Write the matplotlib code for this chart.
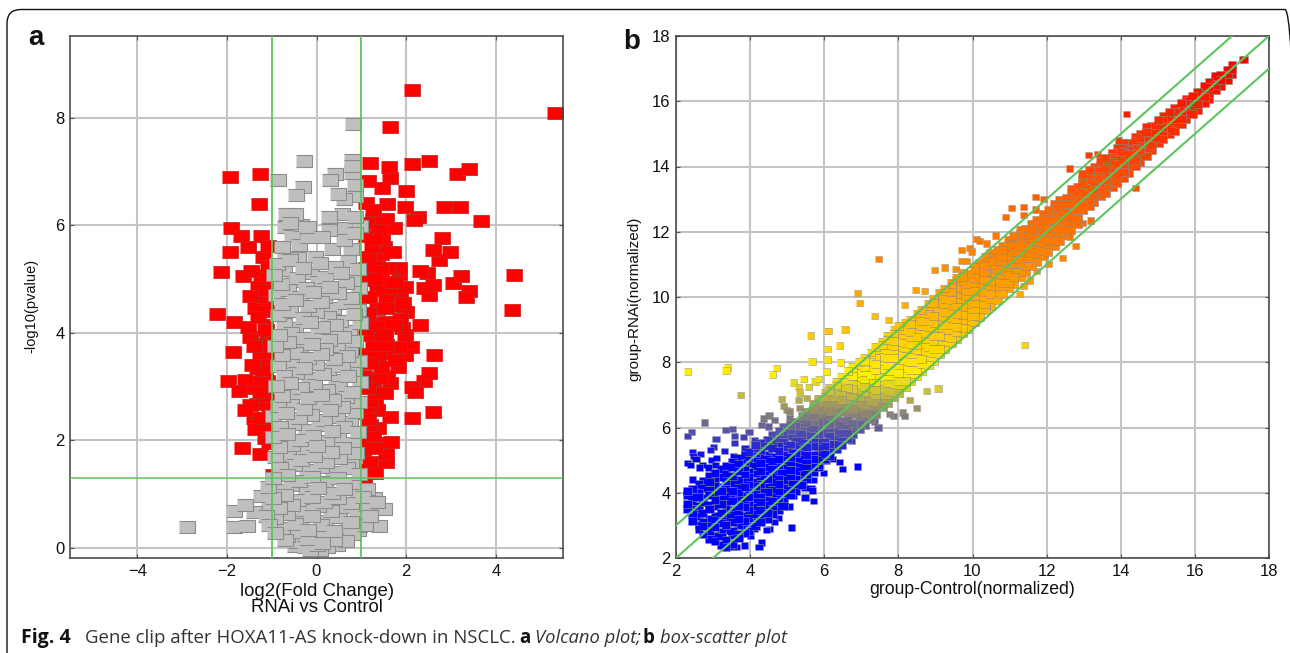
import matplotlib
matplotlib.use("Agg")
import matplotlib.pyplot as plt
from matplotlib.colors import LinearSegmentedColormap
from matplotlib.patches import FancyBboxPatch
from matplotlib.transforms import IdentityTransform

# Figure size in pixels
fig_w = 1290
fig_h = 653

# Panel a: ticks and threshold lines
a_xticks = [-4, -2, 0, 2, 4]
a_yticks = [0, 2, 4, 6, 8]
fc_lines = [-1, 1]
p_line = 1.3

# Panel a: points (x, y)
red_left = [(-1.92,6.9),(-1.25,6.96),(-1.29,6.4),(-1.9,5.95),(-1.69,5.8),(-1.23,5.8),(-1.52,5.6),(-1.94,5.51),
    (-1.09,5.62),(-1.2,5.41),(-2.14,5.13),(-1.47,5.15),(-1.65,5.06),(-1.23,5.08),(-1.05,4.95),(-1.09,4.8),
    (-1.49,4.69),(-1.2,4.67),(-1.16,4.56),(-1.38,4.46),(-2.23,4.35),(-1.83,4.2),(-1.52,4.11),(-1.14,4.15),
    (-1.87,3.65),(-1.49,3.93),(-1.11,3.87),(-1.03,3.65),(-1.27,3.54),(-1.16,3.31),(-1.98,3.11),(-1.6,3.13),
    (-1.27,3.08),(-1.49,2.98),(-1.72,2.92),(-1.16,2.83),(-1.32,2.68),(-1.49,2.66),(-1.6,2.57),(-1.4,2.42),
    (-1.2,2.42),(-1.38,2.21),(-1.11,2.29),(-1.16,2.05),(-1.67,1.86),(-1.25,1.75),(-.98,1.36),(-1.3,4.3),
    (-1.1,4.4),(-1.25,3.8),(-1.4,3.75),(-1.05,3.4),(-1.1,3.1),(-1.05,2.6),(-1.25,2.9),(-1.45,3.4),
    (-1.3,4.85),(-1.08,5.25),(-1.12,4.05),(-1.22,3.2),(-1.3,2.3),(-1.08,2.75),(-1.15,3.62),(-1.05,1.95),(-1.38,3.0),(-1.33,3.35)]
red_right = [(2.14,8.52),(5.33,8.09),(1.65,7.83),(1.2,7.16),(2.14,7.13),(2.52,7.2),(1.61,7.09),(3.14,6.96),
    (3.41,7.05),(1.16,6.83),(1.65,6.88),(1.47,6.7),(2.0,6.64),(1.11,6.42),(1.58,6.4),(1.27,6.29),(1.98,6.33),
    (2.85,6.33),(3.21,6.33),(2.27,6.16),(3.66,6.08),(2.18,6.1),(1.56,6.12),(1.72,5.95),(1.25,6.1),(1.4,5.92),
    (1.47,5.77),(2.81,5.77),(2.59,5.54),(2.97,5.51),(2.74,5.36),(1.23,5.6),(1.43,5.47),(1.14,5.41),(1.85,5.21),
    (1.43,5.15),(2.32,5.15),(2.47,5.12),(1.85,5.1),(3.23,5.06),(4.41,5.08),(1.14,4.99),(1.56,4.95),(3.05,4.93),
    (1.98,4.86),(2.39,4.84),(2.59,4.89),(1.61,4.78),(3.41,4.78),(2.5,4.71),(3.34,4.67),(1.87,4.69),(1.18,4.67),
    (1.56,4.61),(1.94,4.56),(4.37,4.43),(1.14,4.37),(2.0,4.39),(1.56,4.46),(1.87,4.26),(2.32,4.15),(1.18,4.19),
    (1.52,4.2),(1.9,4.09),(2.63,3.59),(2.5,3.26),(2.39,3.11),(2.14,3.0),(2.19,2.9),(2.59,2.53),(2.12,2.42),
    (1.65,2.44),(1.67,1.97),(1.56,1.75),(1.54,1.6),(1.38,1.95),(1.07,1.97),(1.03,1.77),(1.16,1.45),(1.07,1.32),
    (1.38,2.23),(1.2,2.29),(1.34,2.57),(1.2,2.66),(1.52,2.88),(1.16,2.98),(1.38,2.9),(1.63,3.07),(1.58,3.2),
    (1.25,3.13),(1.81,3.37),(1.43,3.37),(1.2,3.44),(1.38,3.55),(1.98,3.59),(1.63,3.63),(2.1,3.74),(1.56,3.78),
    (1.85,3.74),(1.25,3.78),(1.98,3.96),(1.52,3.96),(1.2,4.0),(1.1,5.8),(1.1,5.2),(1.3,5.0),(1.7,4.5),(1.35,4.8),
    (1.1,3.6),(1.05,3.2),(1.1,2.5),(1.25,2.1),(1.2,1.6),(1.3,1.85),(1.7,5.5),(1.3,5.75),(1.35,5.25),(1.6,5.2),
    (1.75,4.95),(1.35,4.45),(1.72,4.15),(1.35,4.1),(1.75,3.5),(1.4,3.15),(1.3,2.75),(1.15,2.4),(1.1,3.95),(1.5,5.6),(1.12,6.05),(1.3,1.4)]
grey_top = [(-.29,7.2),(-.85,6.85),(-.31,6.72),(-.45,6.57),(.82,7.89),(.8,7.22),(.8,7.11),(.42,6.96),(.31,6.85),
    (.8,6.97),(.87,6.74),(.49,6.59),(.62,6.49),(.87,6.55),(.58,6.21),(.29,6.16),(.98,5.99),(.62,5.95),(-.22,5.97),
    (.29,5.92),(.13,5.79),(.62,5.73),(.85,6.16),(.85,5.85),(-.69,6.2),(-.47,6.2),(-.71,5.97),(-.2,5.97),(-.54,5.8),
    (-.38,5.64),(-.76,5.6),(-.71,5.37),(-.42,5.39),(-.2,5.79),(-.04,5.41),(.35,5.55),(.78,5.55),(-.6,6.05),(-.35,6.0)]
grey_outliers = [(-2.9,.38),(-1.85,.38),(-1.55,.4),(-1.85,.68),(-1.6,.8),(-1.4,.66),(1.5,.72),(1.1,.8),(1.35,.85),
    (1.4,.4),(.95,.4),(1.2,.6)]
grey_body = [(-.88,5.27),(-.6,5.36),(-.31,5.2),(.07,5.3),(.42,5.22),(.7,5.34),(.93,5.18),
    (-.94,5.08),(-.72,5.16),(-.44,5.02),(-.13,5.12),(.2,5.03),(.55,5.11),(.82,4.98),
    (-.79,4.9),(-.53,4.96),(-.24,4.84),(.04,4.95),(.31,4.86),(.66,4.92),(.95,4.83),
    (-.91,4.71),(-.64,4.8),(-.36,4.66),(-.08,4.76),(.17,4.67),(.48,4.74),(.78,4.64),
    (-.76,4.53),(-.47,4.6),(-.19,4.49),(.1,4.57),(.37,4.46),(.63,4.55),(.93,4.42),
    (-.87,4.33),(-.59,4.41),(-.3,4.28),(-.02,4.38),(.26,4.3),(.53,4.22),(.83,4.34),
    (-.73,4.16),(-.48,4.09),(-.14,4.2),(.13,4.1),(.42,4.15),(.72,4.03),(.96,4.19),
    (-.84,3.95),(-.56,3.99),(-.27,3.91),(.03,3.99),(.29,3.87),(.59,3.93),(.87,3.84),
    (-.93,3.76),(-.64,3.82),(-.37,3.72),(-.11,3.8),(.19,3.7),(.46,3.76),(.75,3.66),
    (-.77,3.58),(-.47,3.63),(-.2,3.53),(.11,3.6),(.38,3.51),(.67,3.57),(.94,3.47),
    (-.85,3.38),(-.57,3.45),(-.28,3.35),(-.01,3.42),(.25,3.32),(.56,3.38),(.83,3.28),
    (-.73,3.2),(-.45,3.26),(-.16,3.15),(.15,3.23),(.43,3.12),(.71,3.19),(.97,3.09),
    (-.91,3.01),(-.59,3.06),(-.34,2.97),(-.05,3.03),(.23,2.93),(.51,3.0),(.79,2.9),
    (-.77,2.83),(-.49,2.88),(-.2,2.78),(.09,2.85),(.36,2.75),(.65,2.81),(.94,2.72),
    (-.87,2.63),(-.57,2.69),(-.28,2.59),(.03,2.66),(.31,2.56),(.58,2.62),(.86,2.53),
    (-.96,2.45),(-.67,2.5),(-.39,2.41),(-.12,2.47),(.17,2.38),(.46,2.44),(.74,2.34),
    (-.81,2.25),(-.53,2.3),(-.23,2.2),(.06,2.28),(.35,2.17),(.62,2.24),(.93,2.15),
    (-.98,2.06),(-.65,2.11),(-.37,2.01),(-.07,2.08),(.21,1.98),(.49,2.05),(.81,1.95),
    (-.83,1.87),(-.54,1.92),(-.25,1.82),(.02,1.89),(.33,1.79),(.6,1.86),(.89,1.76),
    (-.93,1.68),(-.63,1.73),(-.35,1.63),(-.06,1.7),(.22,1.6),(.5,1.67),(.77,1.57),
    (-.82,1.49),(-.5,1.54),(-.21,1.44),(.09,1.51),(.37,1.41),(.67,1.48),(.94,1.38),
    (-.97,1.3),(-.66,1.35),(-.39,1.25),(-.1,1.32),(.19,1.22),(.48,1.29),(.8,1.2)]
grey_base = [(-1.08,1.13),(-.84,1.08),(-.56,1.16),(-.24,1.05),(.04,1.12),(.35,1.02),(.62,1.1),(.9,1.03),(1.12,1.1),
    (-1.24,.96),(-.98,.92),(-.7,.98),(-.41,.88),(-.11,.95),(.17,.86),(.47,.93),(.76,.84),(1.03,.94),(1.28,.92),
    (-1.07,.78),(-.84,.74),(-.54,.8),(-.28,.7),(.04,.77),(.33,.68),(.61,.75),(.91,.66),(1.16,.74),
    (-1.13,.6),(-.92,.55),(-.66,.62),(-.37,.52),(-.1,.59),(.2,.5),(.5,.57),(.77,.48),(1.03,.58),
    (-1.06,.42),(-.77,.36),(-.49,.44),(-.2,.34),(.11,.42),(.38,.31),(.68,.39),(.92,.33),(1.08,.43),
    (-.92,.28),(-.66,.22),(-.36,.29),(-.08,.2),(.21,.27),(.5,.18),(.8,.26),
    (-.7,.15),(-.45,.1),(-.18,.16),(.12,.08),(.4,.14),(.66,.12),
    (-.48,.04),(-.26,.01),(.01,.05),(.24,.02),(.46,.05),(-.14,-.05),(.08,-.04)]

# Panel b: ticks and the three fold change lines
b_ticks = [2, 4, 6, 8, 10, 12, 14, 16, 18]
b_offsets = [-1, 0, 1]

# Panel b: scattered points (x, y)
b_scatter = [(2.31,7.72),(3.38,7.84),(3.35,7.75),(4.72,7.82),(4.61,7.62),(3.73,7.0),(5.64,8.82),(6.08,8.96),(6.08,8.41),
    (6.4,8.51),(5.67,8.02),(6.08,8.09),(6.44,7.99),(6.07,7.72),(5.43,7.48),(5.16,7.38),(5.75,7.41),(5.3,7.25),(5.57,7.25),
    (5.84,7.48),(5.34,7.07),(5.52,6.9),(4.85,6.88),(5.3,6.85),(4.89,6.66),(4.98,6.54),(5.34,6.59),(5.07,6.49),(4.35,6.28),
    (4.51,6.37),(4.67,6.23),(5.07,6.28),(4.31,6.08),(4.49,6.03),(2.78,6.15),(3.34,5.92),(3.52,5.95),(2.42,5.86),(2.31,5.74),
    (3.08,5.65),(3.57,5.74),(3.97,5.87),(3.81,5.7),(3.59,5.52),(4.11,5.62),(3.02,5.4),(2.92,5.31),(3.31,5.28),(2.45,5.24),
    (2.65,5.19),(2.47,5.13),(2.54,5.04),(2.31,4.92),(2.38,4.85),(2.72,4.85),(2.63,4.77),(2.87,4.77),(2.96,5.0),(3.1,5.06),
    (3.06,4.85),(3.55,5.11),(2.44,4.41),(2.87,4.39),(2.6,4.14),(6.9,4.8),(6.49,4.72),(6.42,4.95),(6.22,5.04),(5.97,4.6),
    (5.86,4.75),(6.06,4.98),(5.72,3.75),(5.48,3.85),(5.48,4.14),(5.66,4.14),(5.7,4.39),(5.68,4.07),(5.43,4.34),(5.12,2.93),
    (5.05,3.58),(5.16,3.9),(4.86,3.71),(4.53,2.89),(4.43,2.86),(4.31,2.47),(4.24,2.33),(4.13,2.89),(4.76,3.22),(4.67,3.11),
    (4.62,3.47),(4.0,2.69),(3.86,2.38),(3.62,2.34),(3.47,2.34),(3.28,2.37),(9.07,7.2),(8.77,7.11),(8.29,6.85),(8.49,6.59),
    (8.11,6.46),(8.17,6.36),(7.86,6.36),(7.75,6.42),(7.45,6.0),(7.36,6.18),(6.73,5.59),(7.47,11.17),(14.16,15.6),(11.41,8.53),
    (14.4,13.35),(12.61,13.94),(13.13,14.36),(13.37,14.39),(13.75,14.42),(13.94,14.8),(11.71,13.06),(11.92,13.0),(11.05,12.73),
    (11.38,12.75),(10.9,12.45),(11.37,12.52),(11.71,12.68),(10.11,11.78),(10.2,11.71),(10.38,11.64),(9.93,11.5),(9.97,11.4),
    (10.63,11.88),(9.7,11.1),(9.84,11.1),(9.55,10.86),(12.79,11.57),(12.42,11.2),(12.62,11.84),(13.18,12.35),(12.97,12.27),
    (12.06,11.02),(11.73,10.79),(11.55,10.51),(11.38,10.33),(11.26,10.1),(17.28,17.28),(17.34,17.28),(6.9,10.13),(6.96,9.82),
    (6.12,8.96),(6.56,9.0),(7.36,9.42),(7.74,9.3),(8.17,9.76),(8.47,10.22),(8.71,10.19),(8.98,10.83),(9.25,10.9),(9.71,11.45)]

# Panel b: the dense band, x: y values
b_band = {2.31:[3.5,3.66,3.93,4.05],2.44:[3.13,3.34,3.49,3.76,3.88,4.12],
    2.62:[2.88,3.02,3.29,3.44,3.6,3.87,4.0,4.28],2.73:[2.72,2.98,3.12,3.39,3.71,3.83,4.15,4.36],
    2.91:[2.59,2.84,3.05,3.21,3.49,3.63,3.94,4.09,4.33,4.51],3.05:[2.52,2.67,2.95,3.16,3.3,3.58,3.79,3.97,4.22,4.43,4.6],
    3.23:[2.41,2.66,2.79,3.06,3.24,3.38,3.66,3.8,4.06,4.19,4.48,4.72],
    3.35:[2.33,2.55,2.87,3.0,3.27,3.51,3.72,3.89,4.13,4.37,4.58,4.81],
    3.53:[2.44,2.7,2.82,3.11,3.33,3.46,3.75,3.92,4.05,4.31,4.5,4.79,4.93],
    3.68:[2.6,2.74,3.01,3.2,3.41,3.59,3.84,4.01,4.24,4.4,4.66,4.88,5.07],
    3.86:[2.76,2.9,3.14,3.29,3.55,3.77,3.9,4.17,4.35,4.56,4.71,4.98,5.15,5.33],
    3.97:[2.84,3.07,3.23,3.47,3.62,3.88,4.1,4.26,4.49,4.64,4.9,5.09,5.26],
    4.15:[2.97,3.19,3.36,3.57,3.8,3.96,4.22,4.34,4.59,4.82,4.96,5.21,5.38,5.47],
    4.29:[3.09,3.3,3.46,3.71,3.86,4.11,4.28,4.51,4.68,4.92,5.12,5.3,5.53],
    4.47:[3.2,3.38,3.63,3.78,4.03,4.17,4.42,4.63,4.79,5.03,5.17,5.44,5.62],
    4.6:[3.34,3.49,3.74,3.93,4.1,4.33,4.54,4.72,4.96,5.1,5.37,5.53,5.76],
    4.78:[3.46,3.69,3.85,4.04,4.28,4.41,4.67,4.85,5.04,5.27,5.42,5.69,5.88],
    4.91:[3.58,3.76,4.0,4.15,4.39,4.6,4.75,5.0,5.15,5.4,5.57,5.79,6.02],
    5.09:[3.93,4.1,4.34,4.52,4.7,4.93,5.09,5.35,5.48,5.73,5.92,6.08],
    5.22:[4.05,4.26,4.43,4.66,4.81,5.06,5.23,5.44,5.66,5.83,6.04,6.18],
    5.4:[4.24,4.4,4.63,4.8,5.04,5.19,5.42,5.59,5.81,6.01,6.16,6.35],
    5.53:[4.41,4.58,4.82,5.0,5.16,5.39,5.54,5.78,5.93,6.14,6.33,6.47],
    5.71:[4.62,4.79,5.03,5.17,5.42,5.56,5.8,5.97,6.19,6.35,6.58,6.72],
    5.84:[4.85,5.01,5.23,5.39,5.62,5.79,6.0,6.17,6.38,6.54,6.77,6.86],
    6.02:[5.02,5.18,5.42,5.57,5.83,5.96,6.21,6.36,6.59,6.74,6.93,7.07],
    6.14:[5.11,5.32,5.49,5.73,5.88,6.12,6.27,6.5,6.68,6.89,7.11,7.2],
    6.33:[5.33,5.49,5.74,5.9,6.13,6.28,6.52,6.68,6.9,7.06,7.27,7.39],
    6.46:[5.47,5.67,5.83,6.07,6.21,6.47,6.6,6.85,7.0,7.24,7.41,7.55],
    6.64:[5.66,5.83,6.06,6.22,6.46,6.6,6.84,7.01,7.2,7.4,7.61,7.74],
    6.77:[5.79,6.0,6.15,6.4,6.57,6.78,6.96,7.19,7.33,7.57,7.71,7.85],
    6.95:[5.95,6.11,6.36,6.51,6.74,6.92,7.12,7.31,7.52,7.68,7.91,8.02],
    7.08:[6.08,6.29,6.45,6.69,6.84,7.08,7.24,7.47,7.62,7.85,8.03,8.14],
    7.26:[6.26,6.42,6.66,6.82,7.05,7.21,7.44,7.6,7.82,8.0,8.17,8.3],
    7.39:[6.4,6.61,6.77,7.0,7.16,7.38,7.57,7.77,7.94,8.14,8.33,8.46],
    7.57:[6.62,6.78,7.01,7.18,7.39,7.56,7.79,7.94,8.17,8.32,8.52,8.63],
    7.7:[6.75,6.95,7.12,7.35,7.5,7.74,7.9,8.13,8.28,8.5,8.68,8.8],
    7.88:[6.93,7.1,7.34,7.49,7.73,7.88,8.12,8.27,8.5,8.66,8.88,8.98],
    8.01:[7.06,7.27,7.43,7.67,7.82,8.06,8.22,8.44,8.61,8.83,9.0,9.12],
    8.19:[7.25,7.42,7.65,7.81,8.05,8.2,8.43,8.59,8.82,8.98,9.2],
    8.32:[7.41,7.61,7.77,8.01,8.16,8.39,8.55,8.78,8.94,9.16,9.31],
    8.5:[7.59,7.76,8.0,8.15,8.38,8.54,8.77,8.93,9.16,9.31,9.48],
    8.63:[7.72,7.93,8.09,8.33,8.48,8.71,8.88,9.1,9.27,9.5,9.61],
    8.81:[7.91,8.08,8.31,8.47,8.7,8.86,9.09,9.25,9.48,9.63,9.8],
    8.94:[8.05,8.26,8.42,8.65,8.81,9.04,9.2,9.43,9.6,9.81,9.93],
    9.12:[8.26,8.42,8.66,8.81,9.05,9.2,9.43,9.59,9.82,9.97,10.12],
    9.25:[8.39,8.59,8.76,8.99,9.15,9.38,9.54,9.77,9.93,10.14,10.26],
    9.43:[8.58,8.75,8.98,9.14,9.37,9.53,9.76,9.92,10.15,10.3,10.44],
    9.56:[8.72,8.92,9.09,9.32,9.48,9.71,9.87,10.1,10.26,10.48,10.58],
    9.74:[8.89,9.06,9.29,9.45,9.68,9.84,10.07,10.23,10.46,10.6,10.75],
    9.87:[9.03,9.24,9.4,9.63,9.79,10.02,10.18,10.41,10.56,10.72],
    10.05:[9.24,9.41,9.64,9.8,10.03,10.19,10.42,10.58,10.8,10.92],
    10.18:[9.4,9.6,9.76,9.99,10.15,10.38,10.54,10.77,10.92,11.05],
    10.36:[9.6,9.77,10.0,10.16,10.39,10.55,10.78,10.94,11.12,11.23],
    10.49:[9.73,9.93,10.1,10.33,10.49,10.72,10.88,11.1,11.22,11.36],
    10.67:[9.92,10.09,10.32,10.48,10.71,10.87,11.1,11.26,11.44],
    10.8:[10.08,10.28,10.44,10.67,10.83,11.06,11.22,11.45,11.56],
    10.98:[10.27,10.44,10.67,10.83,11.06,11.22,11.45,11.61,11.76],
    11.11:[10.4,10.6,10.77,11.0,11.16,11.39,11.55,11.75,11.88],
    11.29:[10.6,10.77,11.0,11.16,11.39,11.55,11.76,11.92,12.06],
    11.42:[10.75,10.95,11.12,11.35,11.51,11.74,11.9,12.1],
    11.6:[10.94,11.11,11.34,11.5,11.73,11.89,12.08,12.24],
    11.73:[11.07,11.27,11.44,11.67,11.83,12.06,12.22,12.37],
    11.91:[11.25,11.42,11.65,11.81,12.04,12.2,12.42,12.55],
    12.04:[11.38,11.58,11.75,11.98,12.14,12.37,12.53,12.67],
    12.22:[11.56,11.73,11.96,12.12,12.35,12.51,12.72,12.86],
    12.35:[11.72,11.93,12.09,12.32,12.48,12.71,12.85,12.98],
    12.53:[11.9,12.07,12.3,12.46,12.69,12.85,13.05],
    12.66:[12.06,12.26,12.42,12.65,12.81,13.03,13.19,13.3],
    12.84:[12.25,12.42,12.65,12.81,13.04,13.2,13.38],
    12.97:[12.66,12.83,13.06,13.22,13.45,13.6,13.76],
    13.15:[12.78,12.95,13.18,13.34,13.57,13.73,13.89],
    13.28:[12.91,13.11,13.28,13.51,13.67,13.87,13.99],
    13.46:[13.08,13.25,13.48,13.64,13.85,14.03,14.16],
    13.59:[13.2,13.4,13.57,13.79,13.95,14.12,14.25],
    13.77:[13.36,13.53,13.76,13.92,14.14,14.28,14.42],
    13.9:[13.5,13.7,13.86,14.08,14.22,14.42,14.56],
    14.08:[13.66,13.83,14.05,14.21,14.44,14.58,14.72],
    14.21:[13.81,14.01,14.17,14.37,14.52,14.71],
    14.39:[14.02,14.19,14.41,14.56,14.77,14.9],
    14.52:[14.14,14.34,14.5,14.7,14.86,15.01],
    14.7:[14.32,14.49,14.71,14.87,15.07,15.2],
    14.83:[14.51,14.67,14.87,15.03,15.25],
    15.01:[14.72,14.88,15.1,15.26,15.43],
    15.14:[14.84,15.04,15.2,15.42,15.54],
    15.32:[14.98,15.16,15.36,15.52,15.66],
    15.45:[15.09,15.29,15.45,15.66,15.78],
    15.63:[15.3,15.46,15.68,15.84,15.94],
    15.76:[15.46,15.66,15.8,16.02,16.08],
    15.94:[15.6,15.78,15.97,16.15],
    16.07:[15.74,15.92,16.1,16.28],
    16.25:[15.93,16.12,16.29,16.46],
    16.38:[16.08,16.26,16.44,16.58],
    16.56:[16.33,16.49,16.66,16.78],
    16.69:[16.48,16.65,16.8],
    16.87:[16.64,16.82,16.96],
    17.0:[16.82,16.98,17.12]}

# Colours
red = "#ff0000"
red_edge = "#c82828"
grey = "#bfbfbf"
grey_edge = "#8c8c8c"
green = "#5cc45c"
grid_colour = "#c4c4c4"
spine_colour = "#404040"

plt.rcParams["font.family"] = ["Liberation Sans", "DejaVu Sans"]

fig = plt.figure(figsize=(fig_w / 100, fig_h / 100), dpi=100)


# axes placed from pixel edges of the picture
def add_axes_px(left, right, top, bottom):
    return fig.add_axes([left / fig_w, 1 - bottom / fig_h, (right - left) / fig_w, (bottom - top) / fig_h])


def text_px(x, y, s, **kwargs):
    fig.text(x / fig_w, 1 - y / fig_h, s, **kwargs)


def style_axes(ax):
    ax.grid(True, color=grid_colour, linewidth=1.5, zorder=0)
    ax.set_axisbelow(True)
    ax.tick_params(direction="in", top=True, right=True, length=3, width=0.8, color="#555555",
                   labelsize=12, labelcolor="#111111", pad=4)
    for spine in ax.spines.values():
        spine.set_color(spine_colour)
        spine.set_linewidth(1.1)


# mixes the drawing order so that the squares overlap unevenly
def draw_order(p):
    return (p[0] * 7.3 + p[1] * 13.1) % 1


# Rounded frame around the figure, open at the bottom and on the right
frame = FancyBboxPatch((7, -60), 1292, 60 + fig_h - 9.5, boxstyle="round,pad=0,rounding_size=14",
                       facecolor="none", edgecolor="#111111", linewidth=1.0)
frame.set_transform(IdentityTransform())
fig.add_artist(frame)

# Rectangular markers, a little wider than tall
box = [(-1, -0.84), (1, -0.84), (1, 0.84), (-1, 0.84)]
box_b = [(-1, -0.9), (1, -0.9), (1, 0.9), (-1, 0.9)]

# Panel a: volcano plot
ax_a = add_axes_px(70, 563, 36, 558)
red_pts = sorted(red_left + red_right, key=draw_order)
ax_a.scatter([p[0] for p in red_pts], [p[1] for p in red_pts], s=118, marker=box, c=red,
             edgecolors=red_edge, linewidths=0.6, zorder=2)
grey_pts = sorted(grey_top + grey_outliers + grey_body + grey_base, key=draw_order)
ax_a.scatter([p[0] for p in grey_pts], [p[1] for p in grey_pts], s=118, marker=box, c=grey,
             edgecolors=grey_edge, linewidths=0.8, zorder=3)
for x in fc_lines:
    ax_a.axvline(x, color=green, linewidth=1.3, zorder=4)
ax_a.axhline(p_line, color=green, linewidth=1.1, zorder=4)
ax_a.set_xlim(-5.5, 5.5)
ax_a.set_ylim(-0.19, 9.52)
ax_a.set_xticks(a_xticks)
ax_a.set_yticks(a_yticks)
style_axes(ax_a)

# Panel b: scatter plot, coloured by its y value
ax_b = add_axes_px(676, 1269, 36, 558)
cmap = LinearSegmentedColormap.from_list("expr", [(0, "#0000ff"), (0.1875, "#0000ff"), (0.35, "#fff000"),
                                                  (0.5625, "#ff8c00"), (0.9375, "#ff0000"), (1, "#ff0000")])
ax_b.scatter([p[0] for p in b_scatter], [p[1] for p in b_scatter], s=26, marker=box_b, c=[p[1] for p in b_scatter],
             cmap=cmap, vmin=2, vmax=18, edgecolors="#9a9a9a", linewidths=0.4, zorder=2)
band_pts = []
for x, ys in b_band.items():
    band_pts = band_pts + [(x, y) for y in ys]
band_pts = sorted(band_pts, key=draw_order)
ax_b.scatter([p[0] for p in band_pts], [p[1] for p in band_pts], s=40, marker=box_b, c=[p[1] for p in band_pts],
             cmap=cmap, vmin=2, vmax=18, edgecolors="#8a8a8a", linewidths=0.4, zorder=3)
for offset in b_offsets:
    ax_b.plot(b_ticks, [t + offset for t in b_ticks], color=green, linewidth=1.5, zorder=4)
ax_b.set_xlim(2, 18)
ax_b.set_ylim(2, 18)
ax_b.set_xticks(b_ticks)
ax_b.set_yticks(b_ticks)
style_axes(ax_b)

# Axis titles
text_px(317, 591, "log2(Fold Change)", ha="center", va="center", fontsize=13.4, color="#111111")
text_px(317, 607, "RNAi vs Control", ha="center", va="center", fontsize=13.4, color="#111111")
text_px(31, 306, "-log10(pvalue)", ha="center", va="center", rotation=90, fontsize=10.5, color="#111111")
text_px(972, 590, "group-Control(normalized)", ha="center", va="center", fontsize=12.7, color="#111111")
text_px(634, 299, "group-RNAi(normalized)", ha="center", va="center", rotation=90, fontsize=11, color="#111111")

# Panel letters
text_px(36, 38, "a", ha="center", va="center", fontsize=20, fontweight="bold", color="#111111")
text_px(632, 42, "b", ha="center", va="center", fontsize=20, fontweight="bold", color="#111111")

# Caption
cap_font = ["Open Sans", "DejaVu Sans"]
text_px(21, 638, "Fig. 4", va="center", fontsize=14, fontweight="bold", family=cap_font, color="#111111")
text_px(85, 638, "Gene clip after HOXA11-AS knock-down in NSCLC.", va="center", fontsize=13.4, family=cap_font, color="#333333")
text_px(519, 638, "a", va="center", fontsize=13.4, fontweight="bold", family=cap_font, color="#111111")
text_px(535, 638, "Volcano plot;", va="center", fontsize=13.2, style="italic", family=cap_font, color="#333333")
text_px(643, 638, "b", va="center", fontsize=13.4, fontweight="bold", family=cap_font, color="#111111")
text_px(660, 638, "box-scatter plot", va="center", fontsize=13.2, style="italic", family=cap_font, color="#333333")

fig.savefig("out.png", dpi=100, facecolor="white")
